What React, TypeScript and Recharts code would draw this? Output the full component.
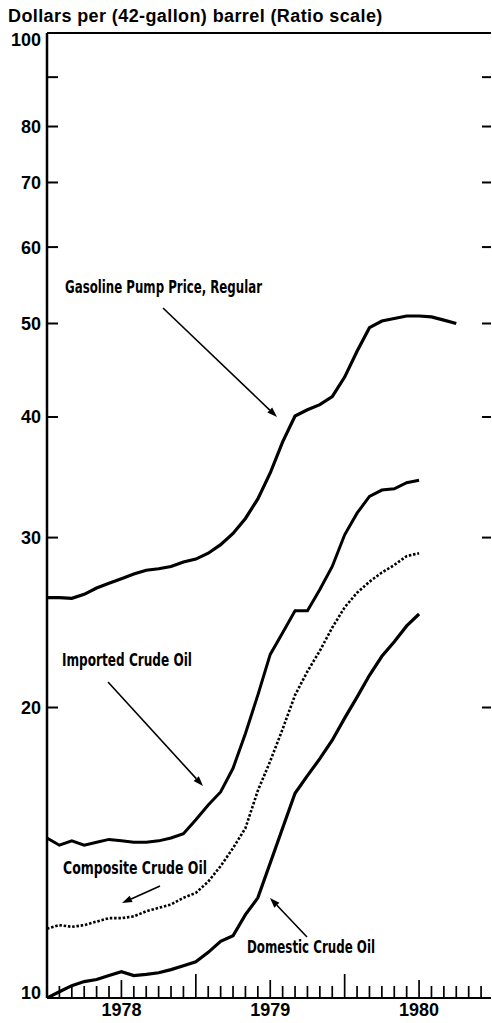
import React from 'react';
import { LineChart, Line, XAxis, YAxis } from 'recharts';

// month index: 0 = Jan 1978
const months = [0, 1, 2, 3, 4, 5, 6, 7, 8, 9, 10, 11, 12, 13, 14, 15, 16, 17, 18, 19, 20, 21, 22, 23, 24, 25, 26, 27, 28, 29, 30, 31, 32, 33];
const monthTicks = [1, 2, 3, 4, 5, 6, 7, 8, 9, 10, 11, 12, 13, 14, 15, 16, 17, 18, 19, 20, 21, 22, 23, 24, 25, 26, 27, 28, 29, 30, 31, 32, 33, 34, 35];
const yearLabels = ['1978', '1979', '1980'];
const yTicks = [10, 20, 30, 40, 50, 60, 70, 80, 90, 100];
const yInnerTicks = [20, 30, 40, 50, 60, 70, 80, 90];
const yLabelled = [10, 20, 30, 40, 50, 60, 70, 80, 100];

const gasoline = [26.0, 26.0, 25.95, 26.2, 26.6, 26.9, 27.2, 27.5, 27.75, 27.85, 28.0, 28.3, 28.5, 28.9, 29.5, 30.3, 31.4, 32.9, 35.0, 37.7, 40.1, 40.7, 41.2, 42.0, 44.0, 46.8, 49.5, 50.3, 50.6, 50.9, 50.9, 50.8, 50.4, 50.0];
const imported = [14.65, 14.4, 14.55, 14.4, 14.5, 14.6, 14.55, 14.5, 14.5, 14.55, 14.65, 14.8, 15.3, 15.85, 16.35, 17.3, 18.8, 20.6, 22.7, 23.9, 25.2, 25.2, 26.5, 28.0, 30.2, 31.8, 33.1, 33.6, 33.7, 34.2, 34.4];
const composite = [11.8, 11.9, 11.85, 11.9, 12.0, 12.1, 12.1, 12.15, 12.3, 12.4, 12.5, 12.7, 12.85, 13.2, 13.7, 14.3, 15.0, 16.4, 17.6, 19.0, 20.6, 21.8, 22.9, 24.2, 25.4, 26.3, 27.0, 27.6, 28.1, 28.7, 28.9];
const domestic = [10.0, 10.15, 10.3, 10.4, 10.45, 10.55, 10.65, 10.55, 10.58, 10.62, 10.7, 10.8, 10.9, 11.15, 11.45, 11.6, 12.2, 12.7, 13.8, 15.0, 16.3, 17.0, 17.7, 18.5, 19.5, 20.5, 21.6, 22.6, 23.4, 24.3, 25.0];

const data = months.map((t, i) => ({
  t,
  gasoline: gasoline[i] ?? null,
  imported: imported[i] ?? null,
  composite: composite[i] ?? null,
  domestic: domestic[i] ?? null,
}));

const FONT = "'Liberation Sans', Arial, Helvetica, sans-serif";
const NARROW = "'Liberation Sans Narrow', 'DejaVu Sans Condensed', 'Liberation Sans', sans-serif";
const PLOT_LEFT = 47;

const LeftLabel = (props: any) => {
  const { y, payload } = props;
  const v = payload.value;
  if (!yLabelled.includes(v)) return <g />;
  const dy = v === 100 ? 7 : v === 10 ? -5 : 0;
  return (
    <text x={PLOT_LEFT - 6} y={y + dy} dy="0.36em" textAnchor="end" fontFamily={FONT} fontWeight={700} fontSize={18} fill="#000">
      {v}
    </text>
  );
};

const XTick = (props: any) => {
  const { x, y, payload } = props;
  const v = payload.value;
  const m = v % 12;
  const h = m === 0 ? 24 : m === 6 ? 18 : 12;
  return (
    <g>
      <line x1={x} x2={x} y1={y} y2={y - h} stroke="#000" strokeWidth={1.7} />
      {m === 6 && (
        <text x={x} y={y + 18} textAnchor="middle" fontFamily={FONT} fontWeight={700} fontSize={18} fill="#000">
          {yearLabels[Math.floor(v / 12)]}
        </text>
      )}
    </g>
  );
};

const Arrow = ({ x1, y1, x2, y2 }: { x1: number; y1: number; x2: number; y2: number }) => {
  const dx = x2 - x1;
  const dy = y2 - y1;
  const len = Math.sqrt(dx * dx + dy * dy);
  const ux = dx / len;
  const uy = dy / len;
  const hl = 10;
  const hw = 3.5;
  const bx = x2 - ux * hl;
  const by = y2 - uy * hl;
  const pts = `${x2},${y2} ${bx - uy * hw},${by + ux * hw} ${bx + uy * hw},${by - ux * hw}`;
  return (
    <g>
      <line x1={x1} y1={y1} x2={bx} y2={by} stroke="#000" strokeWidth={1.6} />
      <polygon points={pts} fill="#000" />
    </g>
  );
};

const Note = ({ x, y, w, children }: { x: number; y: number; w: number; children: string }) => (
  <text x={x} y={y} textLength={w} lengthAdjust="spacingAndGlyphs" fontFamily={NARROW} fontWeight={700} fontSize={17} fill="#000">
    {children}
  </text>
);

const Empty = () => <g />;

export default function App() {
  return (
    <div style={{ position: 'absolute', left: 0, top: 0, width: 492, height: 1023, background: '#fff' }}>
      <LineChart width={492} height={1023} data={data} margin={{ top: 32, right: 0, bottom: 0, left: 0 }}>
        <XAxis
          dataKey="t"
          type="number"
          domain={[0, 35.8]}
          ticks={monthTicks}
          interval={0}
          allowDataOverflow
          height={25}
          tickSize={0}
          tickMargin={0}
          tick={<XTick />}
          axisLine={{ stroke: '#000', strokeWidth: 2.2 }}
          tickLine={false}
        />
        <XAxis
          xAxisId="top"
          orientation="top"
          dataKey="t"
          type="number"
          domain={[0, 35.8]}
          height={1}
          ticks={[]}
          tick={false}
          tickLine={false}
          axisLine={{ stroke: '#000', strokeWidth: 2.2 }}
        />
        <YAxis
          yAxisId="left"
          scale="log"
          domain={[10, 100]}
          ticks={yTicks}
          interval={0}
          allowDataOverflow
          width={47}
          tickSize={0}
          tickMargin={0}
          tick={<LeftLabel />}
          tickLine={false}
          axisLine={{ stroke: '#000', strokeWidth: 2.5 }}
        />
        <YAxis
          yAxisId="lticks"
          mirror
          scale="log"
          domain={[10, 100]}
          ticks={yInnerTicks}
          interval={0}
          allowDataOverflow
          width={11}
          tickSize={11}
          tickMargin={0}
          tick={<Empty />}
          tickLine={{ stroke: '#000', strokeWidth: 2 }}
          axisLine={false}
        />
        <YAxis
          yAxisId="right"
          orientation="right"
          scale="log"
          domain={[10, 100]}
          ticks={yInnerTicks}
          interval={0}
          allowDataOverflow
          width={1}
          tickSize={-9}
          tickMargin={0}
          tick={<Empty />}
          tickLine={{ stroke: '#000', strokeWidth: 2 }}
          axisLine={false}
        />
        <Line yAxisId="left" dataKey="gasoline" type="linear" stroke="#000" strokeWidth={3.2} dot={false} isAnimationActive={false} connectNulls={false} />
        <Line yAxisId="left" dataKey="imported" type="linear" stroke="#000" strokeWidth={3} dot={false} isAnimationActive={false} connectNulls={false} />
        <Line yAxisId="left" dataKey="composite" type="linear" stroke="#000" strokeWidth={2.6} strokeDasharray="2.5 1.8" dot={false} isAnimationActive={false} connectNulls={false} />
        <Line yAxisId="left" dataKey="domestic" type="linear" stroke="#000" strokeWidth={3.2} dot={false} isAnimationActive={false} connectNulls={false} />
      </LineChart>
      <svg width={492} height={1023} style={{ position: 'absolute', left: 0, top: 0, pointerEvents: 'none' }}>
        <text x={8} y={22} fontFamily={FONT} fontWeight={700} fontSize={18} letterSpacing={0.4} fill="#000">
          Dollars per (42-gallon) barrel (Ratio scale)
        </text>
        <Note x={65} y={293} w={197}>Gasoline Pump Price, Regular</Note>
        <Arrow x1={163} y1={308} x2={277} y2={417} />
        <Note x={62} y={666} w={130}>Imported Crude Oil</Note>
        <Arrow x1={108} y1={682} x2={203} y2={786} />
        <Note x={63} y={874} w={144}>Composite Crude Oil</Note>
        <Arrow x1={160} y1={886} x2={122} y2={903} />
        <Note x={247} y={953} w={128}>Domestic Crude Oil</Note>
        <Arrow x1={307} y1={937} x2={270} y2={898} />
      </svg>
    </div>
  );
}
